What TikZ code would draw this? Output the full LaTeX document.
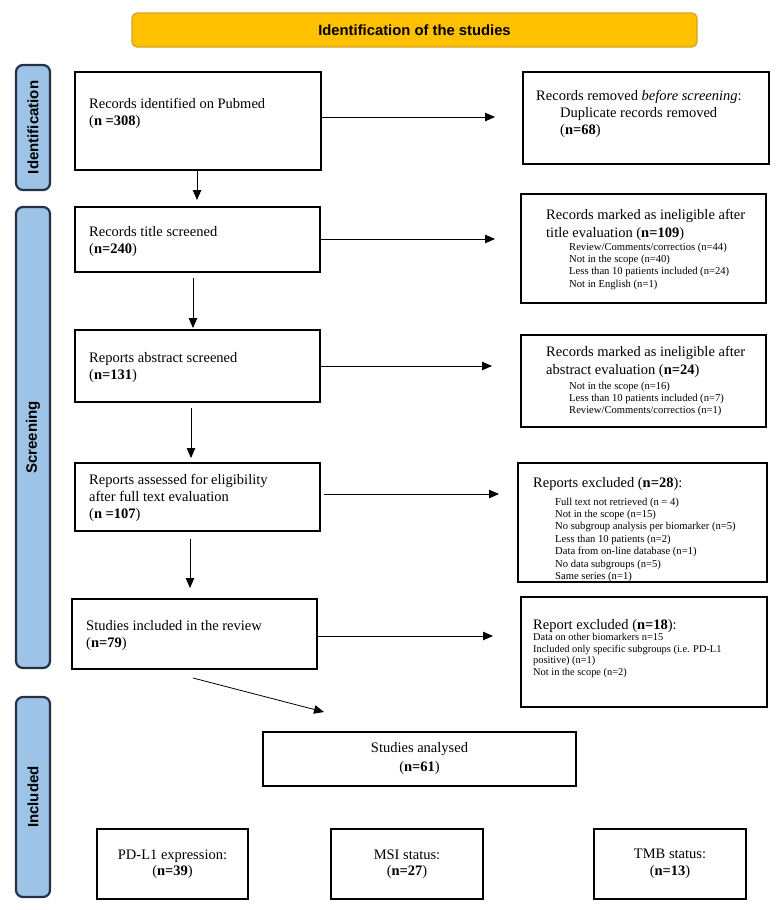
\documentclass[tikz,border=0pt]{standalone}
\usepackage{fontspec}
\setmainfont{Liberation Serif}
\newfontfamily\sansF{Liberation Sans}
\usetikzlibrary{arrows.meta}
\definecolor{barblue}{RGB}{157,195,230}
\definecolor{barline}{RGB}{35,48,70}
\definecolor{gold}{RGB}{255,192,0}
\definecolor{goldline}{RGB}{215,160,40}
\begin{document}
\begin{tikzpicture}[x=1pt,y=-1pt,
 box/.style={draw=black, line width=1.6pt, inner sep=0pt},
 txt/.style={inner sep=0pt, align=left, anchor=north west, font=\fontsize{14.5}{17}\selectfont},
 head/.style={inner sep=0pt, align=left, anchor=north west, font=\fontsize{14.5}{18}\selectfont},
 itm/.style={inner sep=0pt, align=left, anchor=north west, font=\fontsize{10.6}{12.4}\selectfont},
 side/.style={draw=barline, fill=barblue, line width=2.2pt, rounded corners=7pt, inner sep=0pt},
 sidelab/.style={font=\sansF\bfseries\fontsize{15}{17}\selectfont, rotate=90, inner sep=0pt},
 arr/.style={line width=0.8pt, -{Triangle[length=10pt,width=8.5pt]}},
]
\useasboundingbox[fill=white] (0,0) rectangle (780,910);

% title
\node[draw=goldline, fill=gold, line width=1.2pt, rounded corners=5pt, minimum width=565pt, minimum height=34pt,
  font=\sansF\bfseries\fontsize{14.8}{17}\selectfont] (title) at (414.5,30) {Identification of the studies};

% side bars
\node[side, minimum width=34pt, minimum height=125pt] (s1) at (33,127.5) {};
\node[sidelab] (s1l) at (s1.center) {Identification};
\node[side, minimum width=34pt, minimum height=461pt] (s2) at (33,437.5) {};
\node[sidelab] (s2l) at (s2.center) {Screening};
\node[side, minimum width=34pt, minimum height=200pt] (s3) at (33,797) {};
\node[sidelab] (s3l) at (s3.center) {Included};

% left boxes
\node[box, minimum width=246pt, minimum height=98pt] (b1) at (198,121) {};
\node[txt] (b1t) at (89,98) {Records identified on Pubmed\\(\textbf{n =308})};
\node[box, minimum width=245pt, minimum height=65pt] (b2) at (197.5,239.5) {};
\node[txt] (b2t) at (89,226) {Records title screened\\(\textbf{n=240})};
\node[box, minimum width=245pt, minimum height=72pt] (b3) at (197.5,366) {};
\node[txt] (b3t) at (89,352) {Reports abstract screened\\(\textbf{n=131})};
\node[box, minimum width=245pt, minimum height=68pt] (b4) at (197.5,497) {};
\node[txt] (b4t) at (89,474) {Reports assessed for eligibility\\after full text evaluation\\(\textbf{n =107})};
\node[box, minimum width=245pt, minimum height=70pt] (b5) at (194.5,634) {};
\node[txt] (b5t) at (86,620) {Studies included in the review\\(\textbf{n=79})};

% right boxes
\node[box, minimum width=246pt, minimum height=92pt] (r1) at (646,118) {};
\node[txt] (r1t) at (536,90) {Records removed \textit{before screening}:\\\hspace*{24pt}Duplicate records removed\\\hspace*{24pt}(\textbf{n=68})};

\node[box, minimum width=245pt, minimum height=109pt] (r2) at (643.5,248.5) {};
\node[head] (r2h) at (546,209) {Records marked as ineligible after\\title evaluation (\textbf{n=109})};
\node[itm] (r2i) at (569,242.5) {Review/Comments/correctios (n=44)\\Not in the scope (n=40)\\Less than 10 patients included (n=24)\\Not in English (n=1)};

\node[box, minimum width=245pt, minimum height=92pt] (r3) at (643.5,381) {};
\node[head] (r3h) at (546,346) {Records marked as ineligible after\\abstract evaluation (\textbf{n=24})};
\node[itm] (r3i) at (569,381.5) {Not in the scope (n=16)\\Less than 10 patients included (n=7)\\Review/Comments/correctios (n=1)};

\node[box, minimum width=249pt, minimum height=119pt] (r4) at (642.5,522.5) {};
\node[head] (r4h) at (533,477) {Reports excluded (\textbf{n=28}):};
\node[itm] (r4i) at (555,497.5) {Full text not retrieved (n = 4)\\Not in the scope (n=15)\\No subgroup analysis per biomarker (n=5)\\Less than 10 patients (n=2)\\Data from on-line database (n=1)\\No data subgroups (n=5)\\Same series (n=1)};

\node[box, minimum width=246pt, minimum height=110pt] (r5) at (644,652) {};
\node[head] (r5h) at (533,619) {Report excluded (\textbf{n=18}):};
\node[itm, font=\fontsize{10.4}{11.5}\selectfont] (r5i) at (533,633.5) {Data on other biomarkers n=15\\Included only specific subgroups (i.e. PD-L1\\positive) (n=1)\\Not in the scope (n=2)};

% included
\node[box, minimum width=313pt, minimum height=54pt, align=center, font=\fontsize{14.5}{19}\selectfont] (sa) at (419.5,759) {Studies analysed\\(\textbf{n=61})};
\node[box, minimum width=151pt, minimum height=70pt, align=center, font=\fontsize{14.5}{16.5}\selectfont] (p1) at (172.5,864) {PD-L1 expression:\\(\textbf{n=39})};
\node[box, minimum width=152pt, minimum height=70pt, align=center, font=\fontsize{14.5}{16.5}\selectfont] (p2) at (407,864) {MSI status:\\(\textbf{n=27})};
\node[box, minimum width=152pt, minimum height=70pt, align=center, font=\fontsize{14.5}{16.5}\selectfont] (p3) at (670,864) {TMB status:\\(\textbf{n=13})};

% arrow end coordinates
\coordinate (a1e) at (495,117);
\coordinate (a2e) at (495,239);
\coordinate (a3e) at (492,366);
\coordinate (a4e) at (499,494);
\coordinate (a5e) at (493,636);
\coordinate (v1e) at (197,200);
\coordinate (v2e) at (193,328);
\coordinate (v3e) at (191,458);
\coordinate (v4e) at (190,588);
\coordinate (ds) at (193,678);
\coordinate (de) at (324,712);

\draw[arr] (b1.east |- a1e) -- (a1e);
\draw[arr] (b2.east |- a2e) -- (a2e);
\draw[arr] (b3.east |- a3e) -- (a3e);
\draw[arr, shorten <=3pt] (b4.east |- a4e) -- (a4e);
\draw[arr] (b5.east |- a5e) -- (a5e);
\draw[arr] (b1.south -| v1e) -- (v1e);
\draw[arr, shorten <=5pt] (b2.south -| v2e) -- (v2e);
\draw[arr, shorten <=5pt] (b3.south -| v3e) -- (v3e);
\draw[arr, shorten <=7pt] (b4.south -| v4e) -- (v4e);
\draw[arr] (ds) -- (de);
\end{tikzpicture}
\end{document}
